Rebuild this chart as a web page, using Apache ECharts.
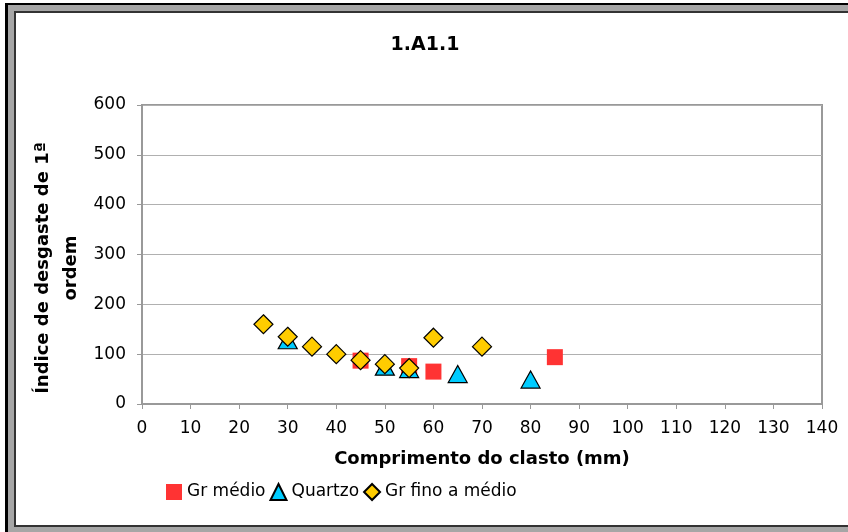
<!DOCTYPE html>
<html>
<head>
<meta charset="utf-8">
<script src="https://cdn.jsdelivr.net/npm/echarts@6/dist/echarts.min.js"></script>
<style>
html,body{margin:0;padding:0;background:#fff;}
#c{width:848px;height:532px;}
</style>
</head>
<body>
<div id="c"></div>
<script>
const chartTitle = '1.A1.1';
const xTitle = 'Comprimento do clasto (mm)';
const yTitle = 'Índice de desgaste de 1ª\nordem';
const seriesNames = ['Gr médio', 'Quartzo', 'Gr fino a médio'];
const grMedio = [[45, 87], [55, 76], [60, 65], [85, 94]];
const quartzo = [[30, 128], [50, 75], [55, 70], [65, 60], [80, 49]];
const grFino = [[25, 160], [30, 135], [35, 115], [40, 100], [45, 88], [50, 80], [55, 72], [60, 133], [70, 115]];
const xRange = [0, 140, 10];
const yRange = [0, 600, 100];

const FONT = 'DejaVu Sans';
const chart = echarts.init(document.getElementById('c'), null, {renderer: 'canvas'});
chart.setOption({
  animation: false,
  backgroundColor: '#ffffff',
  graphic: {
    elements: [
      {type: 'rect', z: -100, shape: {x: 5, y: 3, width: 900, height: 600}, style: {fill: '#000000'}},
      {type: 'rect', z: -99, shape: {x: 8, y: 5, width: 900, height: 600}, style: {fill: '#a6a6a6'}},
      {type: 'rect', z: -98, shape: {x: 14, y: 11, width: 900, height: 516}, style: {fill: '#333333'}},
      {type: 'rect', z: -97, shape: {x: 16, y: 13, width: 900, height: 512}, style: {fill: '#ffffff'}},
      {type: 'text', z: 10, x: 425, y: 45, style: {text: chartTitle, font: 'bold 19px ' + FONT, fill: '#000', align: 'center', verticalAlign: 'middle'}},
      {type: 'text', z: 10, x: 482, y: 459, style: {text: xTitle, font: 'bold 18px ' + FONT, fill: '#000', align: 'center', verticalAlign: 'middle'}},
      {type: 'text', z: 10, x: 57, y: 268, rotation: Math.PI / 2, style: {text: yTitle, font: 'bold 18px ' + FONT, fill: '#000', align: 'center', verticalAlign: 'middle', lineHeight: 28}}
    ]
  },
  grid: {left: 142, right: 26, top: 105, bottom: 128, show: true, borderColor: '#999999', borderWidth: 2, backgroundColor: 'transparent'},
  legend: {
    left: 161, top: 478, itemWidth: 16, itemHeight: 16, itemGap: 4,
    textStyle: {fontFamily: FONT, fontSize: 17, color: '#000'},
    data: seriesNames
  },
  xAxis: {
    type: 'value', min: xRange[0], max: xRange[1], interval: xRange[2],
    axisLine: {show: true, lineStyle: {color: '#999999', width: 2}},
    axisTick: {show: true, length: 5, inside: false, lineStyle: {color: '#999999', width: 1}},
    axisLabel: {margin: 16, fontFamily: FONT, fontSize: 17, color: '#000'},
    splitLine: {show: false}
  },
  yAxis: {
    type: 'value', min: yRange[0], max: yRange[1], interval: yRange[2],
    axisLine: {show: true, lineStyle: {color: '#999999', width: 2}},
    axisTick: {show: true, length: 5, inside: false, lineStyle: {color: '#999999', width: 1}},
    axisLabel: {margin: 16, fontFamily: FONT, fontSize: 17, color: '#000'},
    splitLine: {show: true, lineStyle: {color: '#b0b0b0', width: 1}}
  },
  series: [
    {name: seriesNames[0], type: 'scatter', data: grMedio, symbol: 'rect', symbolSize: 16,
     itemStyle: {color: '#ff3333', borderWidth: 0, opacity: 1}},
    {name: seriesNames[1], type: 'scatter', data: quartzo, symbol: 'triangle', symbolSize: [19, 17],
     itemStyle: {color: '#00ccff', borderColor: '#000', borderWidth: 1.2, opacity: 1}},
    {name: seriesNames[2], type: 'scatter', data: grFino, symbol: 'diamond', symbolSize: [19, 19],
     itemStyle: {color: '#ffcc00', borderColor: '#000', borderWidth: 1.2, opacity: 1}}
  ]
});
</script>
</body>
</html>
